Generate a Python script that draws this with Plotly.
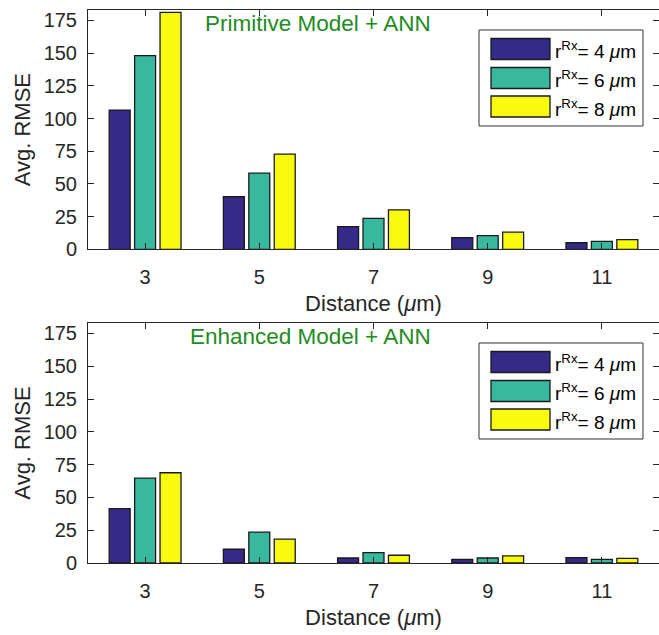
import plotly.graph_objects as go

# ---------------- data ----------------
distances = [3, 5, 7, 9, 11]
radius_labels = ["4", "6", "8"]

primitive_r4 = [106.5, 40.2, 17.3, 8.9, 5.0]
primitive_r6 = [148.1, 58.2, 23.7, 10.4, 6.1]
primitive_r8 = [181.2, 72.8, 30.1, 13.2, 7.4]

enhanced_r4 = [41.5, 10.5, 3.8, 2.8, 4.1]
enhanced_r6 = [64.7, 23.5, 7.9, 3.8, 2.7]
enhanced_r8 = [68.8, 18.2, 5.9, 5.4, 3.6]

panel_titles = ["Primitive Model + ANN", "Enhanced Model + ANN"]
y_ticks = [0, 25, 50, 75, 100, 125, 150, 175]

# ---------------- style ----------------
colors = ["#352A87", "#38B99E", "#F9FB0E"]
axis_col = "#262626"
FONT = "Liberation Sans, Arial, Helvetica, sans-serif"
W, H = 659, 635
ML, MR, MT, MB = 88, 0, 10, 72

fig = go.Figure()

panels = [
    (primitive_r4, primitive_r6, primitive_r8),
    (enhanced_r4, enhanced_r6, enhanced_r8),
]
axes = [("x", "y"), ("x2", "y2")]

for p, (series, (xa, ya)) in enumerate(zip(panels, axes)):
    for vals, col, lab in zip(series, colors, radius_labels):
        fig.add_trace(go.Bar(
            x=distances, y=vals, name=f"r_Rx = {lab} um",
            marker=dict(color=col, line=dict(color="#1a1a1a", width=1.3)),
            xaxis=xa, yaxis=ya, showlegend=False,
        ))

plot_h = H - MT - MB  # 553
top_dom = [(563 - 249.3) / plot_h, 1.0]
bot_dom = [0.0, (563 - 323) / plot_h]

xa_common = dict(
    range=[2, 12], tickvals=distances, ticktext=[str(d) for d in distances],
    ticks="inside", ticklen=6, tickcolor=axis_col, showline=True, linecolor=axis_col,
    linewidth=1, mirror="ticks", showgrid=False, zeroline=False,
    tickfont=dict(family=FONT, size=20, color=axis_col), ticklabelstandoff=10,
    title=dict(text="Distance (<i>μ</i>m)", font=dict(family=FONT, size=22, color=axis_col), standoff=8),
)
ya_common = dict(
    range=[0, 183], tickvals=y_ticks, ticks="inside", ticklen=6, tickcolor=axis_col,
    showline=True, linecolor=axis_col, linewidth=1, mirror="ticks", showgrid=False,
    zeroline=False, tickfont=dict(family=FONT, size=20, color=axis_col), ticklabelstandoff=6,
    title=dict(text="Avg. RMSE", font=dict(family=FONT, size=22, color=axis_col), standoff=6),
)

fig.update_layout(
    width=W, height=H,
    margin=dict(l=ML, r=MR, t=MT, b=MB),
    paper_bgcolor="white", plot_bgcolor="white",
    barmode="group", bargap=0.332, bargroupgap=0.175,
    xaxis=dict(domain=[0, 1], anchor="y", **xa_common),
    yaxis=dict(domain=top_dom, anchor="x", **ya_common),
    xaxis2=dict(domain=[0, 1], anchor="y2", **xa_common),
    yaxis2=dict(domain=bot_dom, anchor="x2", **ya_common),
    showlegend=False,
)

plot_w = W - ML - MR
def fx(px):
    return (px - ML) / plot_w

shapes = []
annotations = []
for p, (xa, ya) in enumerate(axes):
    dom_h = (top_dom[1] - top_dom[0]) * plot_h if p == 0 else (bot_dom[1] - bot_dom[0]) * plot_h
    def fy(off):
        return 1 - off / dom_h
    xr, yr = f"{xa} domain", f"{ya} domain"
    # legend box
    shapes.append(dict(type="rect", xref=xr, yref=yr, x0=fx(479), x1=fx(643),
                       y0=fy(116), y1=fy(20), line=dict(color="#333333", width=1),
                       fillcolor="white", layer="above"))
    sw_tops = [28.5, 57.5, 86.0]
    for col, lab, t in zip(colors, radius_labels, sw_tops):
        shapes.append(dict(type="rect", xref=xr, yref=yr, x0=fx(491), x1=fx(550),
                           y0=fy(t + 21), y1=fy(t), line=dict(color="#1a1a1a", width=1.3),
                           fillcolor=col, layer="above"))
        annotations.append(dict(
            xref=xr, yref=yr, x=fx(553), y=fy(t + 11.5), xanchor="left", yanchor="middle",
            text=f"r<sup>Rx</sup>= {lab} <i>μ</i>m", showarrow=False,
            font=dict(family=FONT, size=19, color="#000000"),
        ))
    # panel title
    cx = 318 if p == 0 else 310
    annotations.append(dict(
        xref=xr, yref=yr, x=fx(cx), y=fy(13), xanchor="center", yanchor="middle",
        text=panel_titles[p], showarrow=False,
        font=dict(family=FONT, size=22.5, color="#228B22"),
    ))

fig.update_layout(shapes=shapes, annotations=annotations)
fig.write_html("out.html")
